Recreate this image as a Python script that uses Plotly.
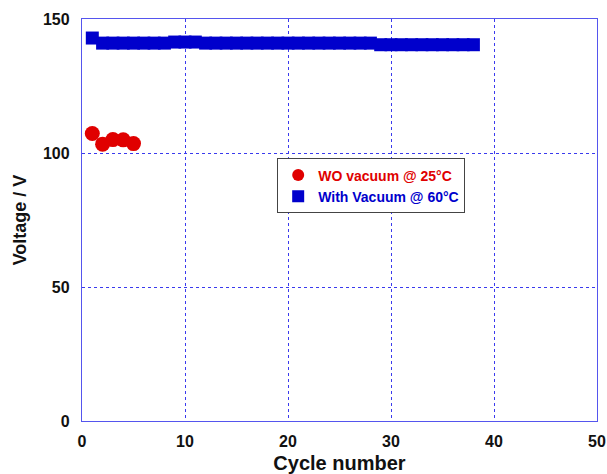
import plotly.graph_objects as go

# Discharge voltage per cycle, two test conditions
cycles_wo = [1, 2, 3, 4, 5]
voltage_wo = [107.3, 103.3, 105.0, 104.9, 103.5]

cycles_vac = list(range(1, 39))
voltage_vac = [
    142.9, 141.0, 141.0, 141.0, 141.0, 141.0, 141.0, 141.0, 141.4, 141.4,
    141.4, 141.0, 141.0, 141.0, 141.0, 141.0, 141.0, 141.0, 141.0, 141.0,
    141.0, 141.0, 141.0, 141.0, 141.0, 141.0, 141.0, 141.0, 140.4, 140.4,
    140.4, 140.4, 140.4, 140.4, 140.4, 140.4, 140.4, 140.4,
]

x_ticks = [0, 10, 20, 30, 40, 50]
y_ticks = [0, 50, 100, 150]

RED = "#e00000"
BLUE = "#0000cc"
AXIS = "#5555ee"
GRID = "#3a3aee"
FONT = "Liberation Sans, Arial, sans-serif"

fig = go.Figure()
fig.add_trace(go.Scatter(
    x=cycles_wo, y=voltage_wo, mode="markers",
    name=f"<b><span style='color:{RED}'>WO vacuum @ 25°C</span></b>",
    marker=dict(symbol="circle", size=15, color=RED, line=dict(width=0)),
))
fig.add_trace(go.Scatter(
    x=cycles_vac, y=voltage_vac, mode="markers",
    name=f"<b><span style='color:{BLUE}'>With Vacuum @ 60°C</span></b>",
    marker=dict(symbol="square", size=13, color=BLUE, line=dict(width=0)),
))

axis_common = dict(
    showline=True, linecolor=AXIS, linewidth=1.3, mirror=True,
    showgrid=True, gridcolor=GRID, gridwidth=1, griddash="dot",
    zeroline=False, ticks="", automargin=False,
    tickfont=dict(family=FONT, size=16, color="#111111"),
)

fig.update_xaxes(
    range=[0, 50], tickvals=x_ticks, ticktext=[f"<b>{v}</b>" for v in x_ticks],
    title=dict(text="<b>Cycle number</b>", font=dict(family=FONT, size=20, color="#111111"),
               standoff=6),
    ticklabelstandoff=6,
    **axis_common,
)
fig.update_yaxes(
    range=[0, 150], tickvals=y_ticks, ticktext=[f"<b>{v}</b>" for v in y_ticks],
    title=dict(text="<b>Voltage / V</b>", font=dict(family=FONT, size=18, color="#111111"),
               standoff=11),
    ticklabelstandoff=8,
    **axis_common,
)

fig.update_layout(
    width=607, height=474,
    margin=dict(l=82, r=10, t=19, b=53),
    plot_bgcolor="white", paper_bgcolor="white",
    font=dict(family=FONT),
    showlegend=True,
    legend=dict(
        x=0.379, y=0.653, xanchor="left", yanchor="top",
        bgcolor="white", bordercolor="#444444", borderwidth=1,
        font=dict(family=FONT, size=14),
        itemsizing="constant", tracegroupgap=0,
    ),
)

fig.write_html("out.html")
